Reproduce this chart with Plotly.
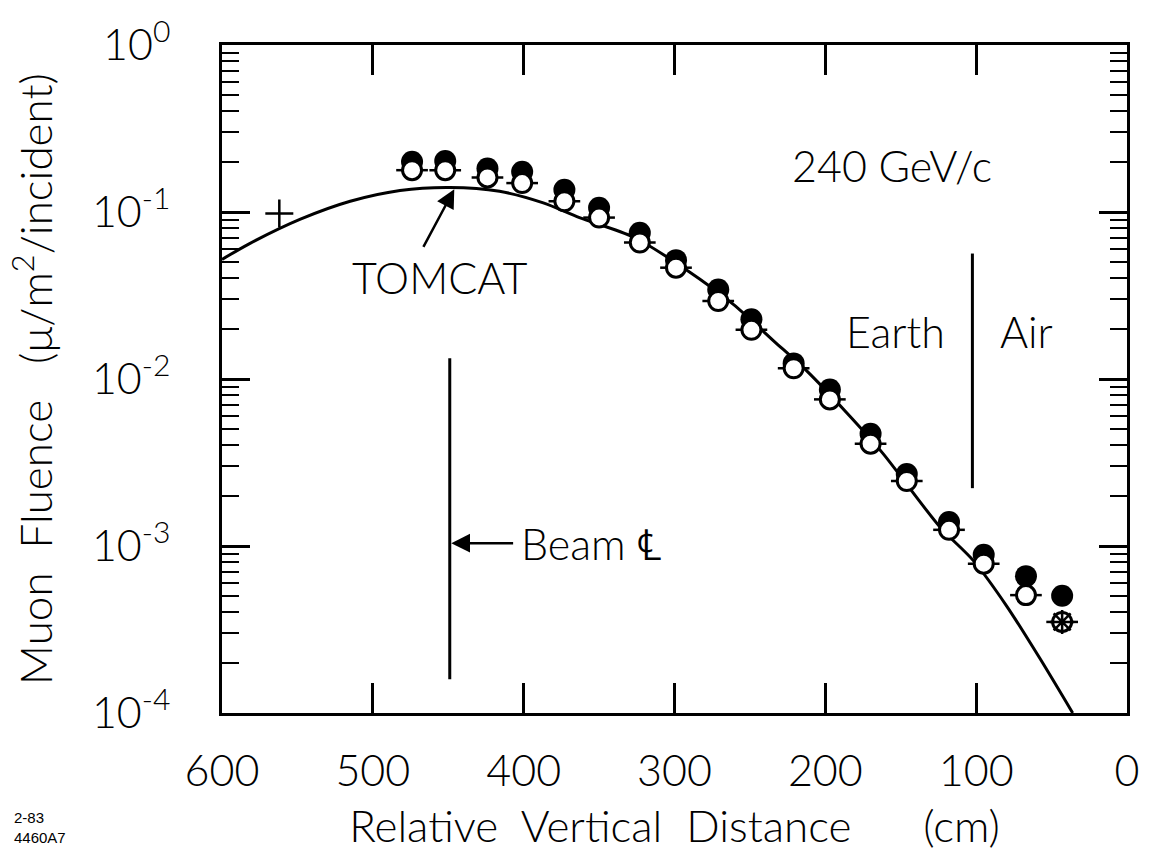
import math
import plotly.graph_objects as go

# Detector positions (cm, relative vertical distance) and measured muon fluence
distance_cm = [474, 452, 424, 401, 373, 350, 323, 299, 271, 249, 221, 197, 170, 146, 118, 95, 67, 43]
fluence_filled = [0.200, 0.202, 0.182, 0.174, 0.136, 0.106, 0.0752, 0.0515, 0.0343, 0.0228,
                  0.0124, 0.00865, 0.0047, 0.0027, 0.00139, 0.000885, 0.00066, 0.000503]
fluence_open = [0.178, 0.178, 0.161, 0.149, 0.116, 0.0926, 0.0657, 0.0464, 0.0293, 0.0197,
                0.0116, 0.00755, 0.0041, 0.00245, 0.00125, 0.000784, 0.000508, 0.000351]
distance_halfwidth_cm = 10.5

# Asterisk measurement at the last station and the single "+" point
star_cm = [43]
star_fluence = [0.000351]
plus_cm = [562]
plus_fluence = [0.098]

# TOMCAT calculation
tomcat_cm = [600, 582, 548, 515, 482, 449, 416, 387, 363, 327, 292, 261, 234.5, 212, 186,
             162, 124, 102, 80, 58, 36]
tomcat_fluence = [0.052, 0.0645, 0.0906, 0.116, 0.1346, 0.1403, 0.133, 0.1134, 0.0925, 0.0706,
                  0.045, 0.028, 0.017, 0.0111, 0.0063, 0.0036, 0.0013, 0.00082, 0.00044,
                  0.000214, 0.0001]

# Reference lines: beam centre line and the earth/air boundary
beam_cl_cm = 449
beam_line_fluence = [0.0133, 0.000159]
earth_air_cm = 102.5
earth_air_fluence = [0.0564, 0.00222]

# Axis ticks
x_ticks = [600, 500, 400, 300, 200, 100, 0]
y_ticks = [1e-4, 1e-3, 1e-2, 1e-1, 1]
y_tick_text = ["10<sup>-4</sup>", "10<sup>-3</sup>", "10<sup>-2</sup>", "10<sup>-1</sup>", "10<sup>0</sup>"]
y_minor = [k * 10.0 ** e for e in range(-4, 0) for k in range(2, 10)]

FONT = "Lato, 'Liberation Sans', 'DejaVu Sans', sans-serif"
INK = "black"
NB = "\u00a0"

fig = go.Figure()

fig.add_trace(go.Scatter(
    x=tomcat_cm, y=tomcat_fluence, mode="lines",
    line=dict(color=INK, width=3, shape="spline", smoothing=0.8),
    hoverinfo="skip", showlegend=False))

fig.add_trace(go.Scatter(
    x=[beam_cl_cm, beam_cl_cm], y=beam_line_fluence, mode="lines",
    line=dict(color=INK, width=3), hoverinfo="skip", showlegend=False))
fig.add_trace(go.Scatter(
    x=[earth_air_cm, earth_air_cm], y=earth_air_fluence, mode="lines",
    line=dict(color=INK, width=3), hoverinfo="skip", showlegend=False))

fig.add_trace(go.Scatter(
    x=distance_cm, y=fluence_filled, mode="markers",
    marker=dict(symbol="circle", size=22, color=INK, line=dict(width=0)),
    showlegend=False))

fig.add_trace(go.Scatter(
    x=distance_cm, y=fluence_open, mode="markers",
    marker=dict(symbol="circle", size=19, color="white", line=dict(color=INK, width=3)),
    error_x=dict(type="constant", value=distance_halfwidth_cm, width=0, thickness=2.5, color=INK),
    showlegend=False))

fig.add_trace(go.Scatter(
    x=star_cm, y=star_fluence, mode="markers",
    marker=dict(symbol="asterisk-open", size=20, color=INK, line=dict(color=INK, width=2.5)),
    showlegend=False))

fig.add_trace(go.Scatter(
    x=plus_cm, y=plus_fluence, mode="markers",
    marker=dict(symbol="cross-thin-open", size=20, color=INK, line=dict(color=INK, width=2.5)),
    showlegend=False))

lg = math.log10
label_font = dict(family=FONT, size=43, color=INK, weight=300)
annotations = [
    dict(x=515, y=lg(0.0406), text="TOMCAT", showarrow=False, xanchor="left", yanchor="middle",
         font=label_font),
    dict(x=446, y=lg(0.137), ax=467, ay=lg(0.0606), axref="x", ayref="y", text="",
         showarrow=True, arrowhead=2, arrowsize=1.5, arrowwidth=2.5, arrowcolor=INK),
    dict(x=223.5, y=lg(0.189), text="240 GeV/c", showarrow=False, xanchor="left", yanchor="middle",
         font=label_font),
    dict(x=119.5, y=lg(0.0193), text="Earth", showarrow=False, xanchor="right", yanchor="middle",
         font=label_font),
    dict(x=85.5, y=lg(0.0193), text="Air", showarrow=False, xanchor="left", yanchor="middle",
         font=label_font),
    dict(x=448, y=lg(0.00104), ax=406, ay=lg(0.00104), axref="x", ayref="y", text="",
         showarrow=True, arrowhead=2, arrowsize=1.5, arrowwidth=2.5, arrowcolor=INK),
    dict(x=403, y=lg(0.00104), text="Beam \u2104", showarrow=False, xanchor="left", yanchor="middle",
         font=label_font),
    dict(x=-0.232, y=-0.171, xref="paper", yref="paper", text="2-83<br>4460A7", showarrow=False,
         xanchor="left", yanchor="middle", align="left",
         font=dict(family="'Liberation Sans', sans-serif", size=15, color=INK)),
]

x_title = ("Relative" + NB * 2 + "Vertical" + NB * 2 + "Distance" + NB * 6 + "(cm)")
y_title = ("Muon" + NB * 2 + "Fluence" + NB * 3 + "(\u03bc/m<sup>2</sup>/incident)")

fig.update_layout(
    width=1153, height=855,
    margin=dict(l=222, r=26, t=34, b=142),
    paper_bgcolor="white", plot_bgcolor="white",
    font=dict(family=FONT, color=INK, weight=300),
    showlegend=False,
    annotations=annotations,
    xaxis=dict(
        range=[600, 0], tickmode="array", tickvals=x_ticks, ticktext=[str(v) for v in x_ticks],
        ticks="inside", ticklen=30, tickwidth=2.5, tickcolor=INK,
        showline=True, linewidth=3, linecolor=INK, mirror="allticks",
        showgrid=False, zeroline=False,
        tickfont=dict(family=FONT, size=43, color=INK, weight=300), ticklabelstandoff=18,
        title=dict(text=x_title, font=dict(family=FONT, size=44, color=INK, weight=300), standoff=18),
    ),
    yaxis=dict(
        type="log", range=[-4, 0], tickmode="array", tickvals=y_ticks, ticktext=y_tick_text,
        ticks="inside", ticklen=28, tickwidth=2.5, tickcolor=INK,
        showline=True, linewidth=3, linecolor=INK, mirror="allticks",
        showgrid=False, zeroline=False,
        tickfont=dict(family=FONT, size=43, color=INK, weight=300), ticklabelstandoff=40,
        minor=dict(tickmode="array", tickvals=y_minor, ticks="inside", ticklen=17,
                   tickwidth=2, tickcolor=INK, showgrid=False),
        title=dict(text=y_title, font=dict(family=FONT, size=44, color=INK, weight=300), standoff=26),
    ),
)

fig.write_html("out.html")
